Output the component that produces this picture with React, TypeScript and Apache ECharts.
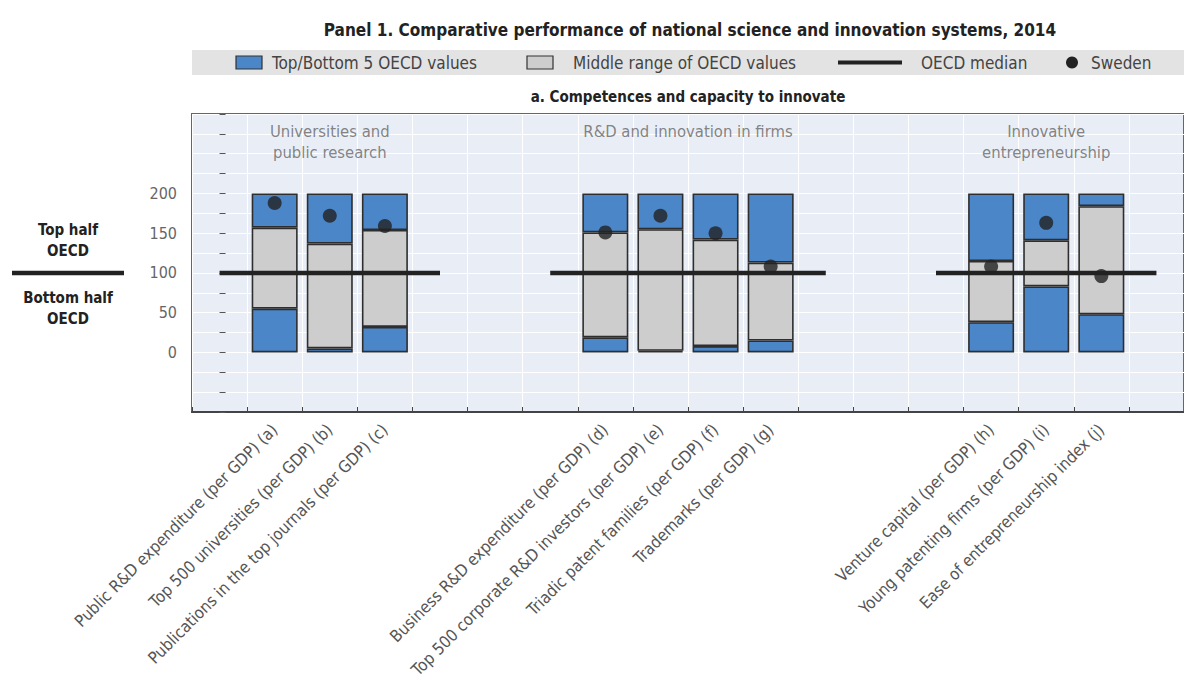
import React, { useEffect, useRef } from "react";
import * as echarts from "echarts";

const FONT = "'DejaVu Sans Condensed', 'Liberation Sans Narrow', 'Liberation Sans', sans-serif";

// 18 category slots; empty strings are spacing slots
const categories = [
  "",
  "Public R&D expenditure (per GDP) (a)",
  "Top 500 universities (per GDP) (b)",
  "Publications in the top journals (per GDP) (c)",
  "", "", "",
  "Business R&D expenditure (per GDP) (d)",
  "Top 500 corporate R&D investors (per GDP) (e)",
  "Triadic patent families (per GDP) (f)",
  "Trademarks (per GDP) (g)",
  "", "", "",
  "Venture capital (per GDP) (h)",
  "Young patenting firms (per GDP) (i)",
  "Ease of entrepreneurship index (j)",
  "",
];
// upper bound of the bottom-5 range
const bottom5Upper = [null, 55, 5, 32, null, null, null, 19, 2, 8, 15, null, null, null, 38, 83, 48, null];
// lower bound of the top-5 range
const top5Lower = [null, 157, 137, 154, null, null, null, 151, 155, 142, 113, null, null, null, 115, 141, 184, null];
const scaleMax = 200;
const sweden = [null, 188, 172, 159, null, null, null, 151, 172, 150, 108, null, null, null, 108, 163, 96, null];
const oecdMedian = [100, 100, 100, 100, 100, null, 100, 100, 100, 100, 100, 100, null, 100, 100, 100, 100, 100];
const groupNames = ["Universities and\npublic research", "R&D and innovation in firms", "Innovative\nentrepreneurship"];
const groupCenters = [2, 8.5, 15];
const yTickLabels = [0, 50, 100, 150, 200];

export default function App() {
  const ref = useRef<HTMLDivElement>(null);
  useEffect(() => {
    const chart = echarts.init(ref.current!, null, { renderer: "svg" });
    const blue = "#4a86c8";
    const gray = "#cdcdcd";
    const border = { borderColor: "#2e2e2e", borderWidth: 1.6 };
    const midData = top5Lower.map((v, i) => (v == null || bottom5Upper[i] == null ? null : v - (bottom5Upper[i] as number)));
    const topData = top5Lower.map((v) => (v == null ? null : scaleMax - v));

    chart.setOption({
      animation: false,
      textStyle: { fontFamily: FONT },
      grid: {
        left: 192, top: 114, right: -9, bottom: 272,
        show: true, backgroundColor: "#e9eef6", borderColor: "#666", borderWidth: 2,
      },
      xAxis: [
        {
          type: "category",
          data: categories,
          axisLine: { show: true, onZero: false, lineStyle: { color: "#444", width: 2 } },
          axisTick: { show: true, inside: true, length: 5, lineStyle: { color: "#444" } },
          splitLine: { show: true, interval: 0, lineStyle: { color: "#ffffff", width: 1 } },
          axisLabel: { interval: 0, rotate: 45, fontSize: 16.5, color: "#555", margin: 15, fontFamily: FONT },
        },
        { type: "value", min: -0.5, max: 17.5, show: false },
      ],
      yAxis: {
        type: "value",
        min: -75,
        max: 300,
        interval: 25,
        axisLine: { show: false },
        axisTick: { show: true, inside: true, length: 6, lineStyle: { color: "#555" } },
        splitLine: { show: true, lineStyle: { color: "#ffffff", width: 1 } },
        axisLabel: {
          fontSize: 16, color: "#666", margin: 15, fontFamily: FONT,
          formatter: (v: number) => (yTickLabels.includes(v) ? String(v) : ""),
        },
      },
      series: [
        { name: "bottom5", type: "bar", stack: "s", data: bottom5Upper, barWidth: 46, itemStyle: { color: blue, ...border }, z: 2 },
        { name: "middle", type: "bar", stack: "s", data: midData, barWidth: 46, itemStyle: { color: gray, ...border }, z: 2 },
        { name: "top5", type: "bar", stack: "s", data: topData, barWidth: 46, itemStyle: { color: blue, ...border }, z: 2 },
        {
          name: "OECD median", type: "line", data: oecdMedian, symbol: "none", connectNulls: false,
          lineStyle: { color: "#222", width: 4.5 }, z: 4,
        },
        {
          name: "Sweden", type: "scatter", data: sweden, symbol: "circle", symbolSize: 14,
          itemStyle: { color: "#222" }, z: 5,
        },
        {
          name: "groups", type: "scatter", xAxisIndex: 1, silent: true, symbolSize: 0,
          data: groupCenters.map((x, i) => ({ value: [x, 291], name: groupNames[i] })),
          label: {
            show: true, position: "bottom", distance: 0, formatter: (p: any) => p.name,
            color: "#666", fontSize: 16.5, lineHeight: 21, align: "center", fontFamily: FONT,
          },
          z: 3,
        },
      ],
      graphic: [
        { type: "text", x: 690, y: 30, style: { text: "Panel 1. Comparative performance of national science and innovation systems, 2014", font: `bold 17px ${FONT}`, fill: "#222", align: "center", verticalAlign: "middle" } },
        { type: "rect", shape: { x: 192, y: 50, width: 1000, height: 25 }, style: { fill: "#e3e3e3" } },
        { type: "rect", shape: { x: 236, y: 56, width: 26, height: 13 }, style: { fill: blue, stroke: "#333", lineWidth: 1.2 } },
        { type: "text", x: 272, y: 62.5, style: { text: "Top/Bottom 5 OECD values", font: `17px ${FONT}`, fill: "#444", verticalAlign: "middle" } },
        { type: "rect", shape: { x: 527, y: 56, width: 26, height: 13 }, style: { fill: gray, stroke: "#333", lineWidth: 1.2 } },
        { type: "text", x: 573, y: 62.5, style: { text: "Middle range of OECD values", font: `17px ${FONT}`, fill: "#444", verticalAlign: "middle" } },
        { type: "line", shape: { x1: 838, y1: 62.5, x2: 902, y2: 62.5 }, style: { stroke: "#222", lineWidth: 4 } },
        { type: "text", x: 921, y: 62.5, style: { text: "OECD median", font: `17px ${FONT}`, fill: "#444", verticalAlign: "middle" } },
        { type: "circle", shape: { cx: 1072, cy: 62.5, r: 6 }, style: { fill: "#222" } },
        { type: "text", x: 1091, y: 62.5, style: { text: "Sweden", font: `17px ${FONT}`, fill: "#444", verticalAlign: "middle" } },
        { type: "text", x: 688, y: 97, style: { text: "a. Competences and capacity to innovate", font: `bold 15px ${FONT}`, fill: "#222", align: "center", verticalAlign: "middle" } },
        { type: "text", x: 68, y: 240, style: { text: "Top half\nOECD", font: `bold 15px ${FONT}`, fill: "#222", align: "center", verticalAlign: "middle", lineHeight: 21 } },
        { type: "line", shape: { x1: 12, y1: 273, x2: 124, y2: 273 }, style: { stroke: "#222", lineWidth: 4.5 } },
        { type: "text", x: 68, y: 308, style: { text: "Bottom half\nOECD", font: `bold 15px ${FONT}`, fill: "#222", align: "center", verticalAlign: "middle", lineHeight: 21 } },
      ],
    });
    return () => chart.dispose();
  }, []);
  return (
    <div style={{ position: "absolute", left: 0, top: 0, width: 1184, height: 684, overflow: "hidden", background: "#fff" }}>
      <div ref={ref} style={{ width: 1184, height: 684 }} />
    </div>
  );
}
